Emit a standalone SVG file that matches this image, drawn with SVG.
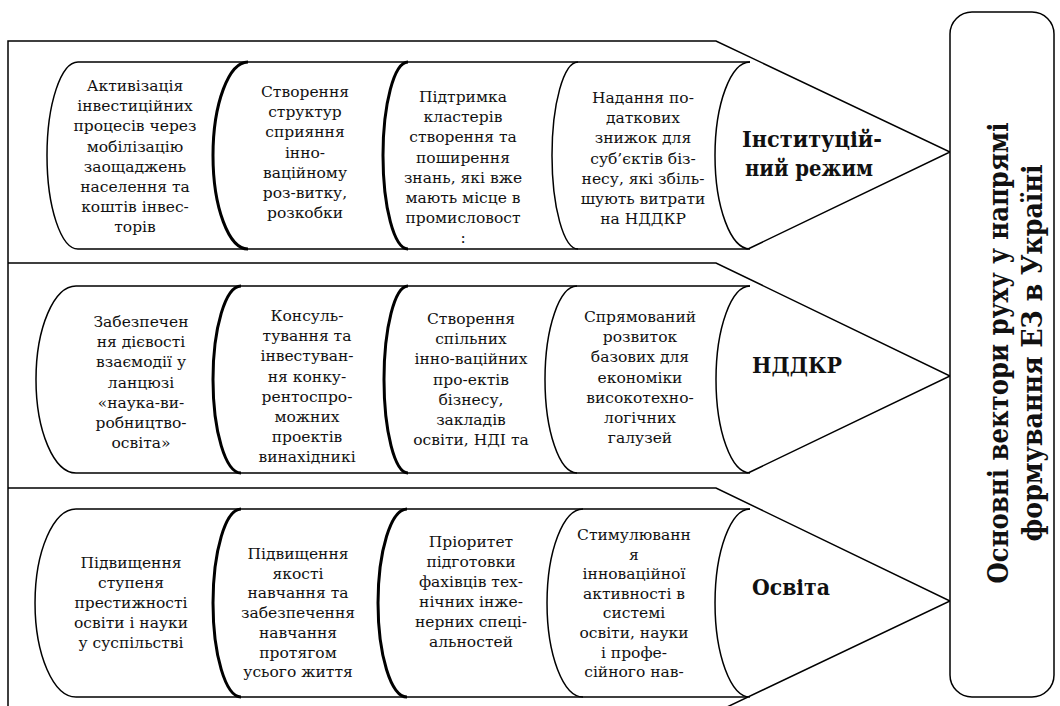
<svg xmlns="http://www.w3.org/2000/svg" width="1060" height="706" viewBox="0 0 1060 706">
<style>
.ln{fill:none;stroke:#000;stroke-width:1.5}
.arc{fill:none;stroke:#000;stroke-width:1.5}
.arcb{fill:none;stroke:#000;stroke-width:3}
.t{font-family:'DejaVu Serif','Noto Serif',serif;font-size:15.5px;fill:#111;text-anchor:middle}
.lb{font-family:'DejaVu Serif','Noto Serif',serif;font-size:22.5px;font-weight:bold;fill:#111;text-anchor:middle}
.vt{font-family:'DejaVu Serif','Noto Serif',serif;font-size:28px;font-weight:bold;fill:#111;text-anchor:middle}
</style>
<rect width="1060" height="706" fill="#fff"/>
<g id="connectors">
<path class="ln" d="M8,706 V41 H716 L950,152 L748,249"/>
<path class="ln" d="M8,263 H716 L950,376 L748,473"/>
<path class="ln" d="M8,488 H716 L950,601 L727,707"/>
</g>
<g id="band1">
<path class="ln" d="M78,62 H750 M78,249 H748"/>
<path class="arc" d="M78,62 A31,93.5 0 0 0 78,249"/>
<path class="arcb" d="M248,62 A35,93.5 0 0 0 248,249"/>
<path class="arcb" d="M408,62 A25,93.5 0 0 0 408,249"/>
<path class="arc" d="M578,62 A26,93.5 0 0 0 578,249"/>
<path class="arc" d="M750,62 A35,93.5 0 0 0 750,249"/>
<text class="t" x="135" y="91"><tspan x="135">Активізація</tspan><tspan x="135" dy="20.2">інвестиційних</tspan><tspan x="135" dy="20.2">процесів через</tspan><tspan x="135" dy="20.2">мобілізацію</tspan><tspan x="135" dy="20.2">заощаджень</tspan><tspan x="135" dy="20.2">населення та</tspan><tspan x="135" dy="20.2">коштів інвес-</tspan><tspan x="135" dy="20.2">торів</tspan></text>
<text class="t" x="305" y="97"><tspan x="305">Створення</tspan><tspan x="305" dy="20.2">структур</tspan><tspan x="305" dy="20.2">сприяння</tspan><tspan x="305" dy="20.2">інно-</tspan><tspan x="305" dy="20.2">ваційному</tspan><tspan x="305" dy="20.2">роз-витку,</tspan><tspan x="305" dy="20.2">розкобки</tspan></text>
<text class="t" x="463" y="102"><tspan x="463">Підтримка</tspan><tspan x="463" dy="20.2">кластерів</tspan><tspan x="463" dy="20.2">створення та</tspan><tspan x="463" dy="20.2">поширення</tspan><tspan x="463" dy="20.2">знань, які вже</tspan><tspan x="463" dy="20.2">мають місце в</tspan><tspan x="463" dy="20.2">промисловост</tspan><tspan x="463" dy="20.2">:</tspan></text>
<text class="t" x="643" y="103"><tspan x="643">Надання по-</tspan><tspan x="643" dy="20.2">даткових</tspan><tspan x="643" dy="20.2">знижок для</tspan><tspan x="643" dy="20.2">суб’єктів біз-</tspan><tspan x="643" dy="20.2">несу, які збіль-</tspan><tspan x="643" dy="20.2">шують витрати</tspan><tspan x="643" dy="20.2">на НДДКР</tspan></text>
<text class="lb" x="812" y="147"><tspan x="812" textLength="140" lengthAdjust="spacingAndGlyphs">Інституцій-</tspan><tspan x="809" dy="29" textLength="128" lengthAdjust="spacingAndGlyphs">ний режим</tspan></text>
</g>
<g id="band2">
<path class="ln" d="M76,286 H750 M76,473 H748"/>
<path class="arc" d="M76,286 A40,93.5 0 0 0 76,473"/>
<path class="arcb" d="M241,286 A28,93.5 0 0 0 241,473"/>
<path class="arcb" d="M408,286 A24,93.5 0 0 0 408,473"/>
<path class="arc" d="M577,286 A32,93.5 0 0 0 577,473"/>
<path class="arc" d="M750,286 A34,93.5 0 0 0 750,473"/>
<text class="t" x="141" y="327"><tspan x="141">Забезпечен</tspan><tspan x="141" dy="20.2">ня дієвості</tspan><tspan x="141" dy="20.2">взаємодії у</tspan><tspan x="141" dy="20.2">ланцюзі</tspan><tspan x="141" dy="20.2">«наука-ви-</tspan><tspan x="141" dy="20.2">робництво-</tspan><tspan x="141" dy="20.2">освіта»</tspan></text>
<text class="t" x="307" y="321"><tspan x="307">Консуль-</tspan><tspan x="307" dy="20.2">тування та</tspan><tspan x="307" dy="20.2">інвестуван-</tspan><tspan x="307" dy="20.2">ня конку-</tspan><tspan x="307" dy="20.2">рентоспро-</tspan><tspan x="307" dy="20.2">можних</tspan><tspan x="307" dy="20.2">проектів</tspan><tspan x="307" dy="20.2">винахідникі</tspan></text>
<text class="t" x="471" y="324"><tspan x="471">Створення</tspan><tspan x="471" dy="20.2">спільних</tspan><tspan x="471" dy="20.2">інно-ваційних</tspan><tspan x="471" dy="20.2">про-ектів</tspan><tspan x="471" dy="20.2">бізнесу,</tspan><tspan x="471" dy="20.2">закладів</tspan><tspan x="471" dy="20.2">освіти, НДІ та</tspan></text>
<text class="t" x="640" y="322"><tspan x="640">Спрямований</tspan><tspan x="640" dy="20.2">розвиток</tspan><tspan x="640" dy="20.2">базових для</tspan><tspan x="640" dy="20.2">економіки</tspan><tspan x="640" dy="20.2">високотехно-</tspan><tspan x="640" dy="20.2">логічних</tspan><tspan x="640" dy="20.2">галузей</tspan></text>
<text class="lb" x="797" y="373" textLength="90" lengthAdjust="spacingAndGlyphs">НДДКР</text>
</g>
<g id="band3">
<path class="ln" d="M76,509 H750 M76,697 H748"/>
<path class="arc" d="M76,509 A41,94 0 0 0 76,697"/>
<path class="arcb" d="M241,509 A28,94 0 0 0 241,697"/>
<path class="arcb" d="M407,509 A29,94 0 0 0 407,697"/>
<path class="arc" d="M583,509 A36,94 0 0 0 583,697"/>
<path class="arc" d="M750,509 A35,94 0 0 0 750,697"/>
<text class="t" x="131" y="568"><tspan x="131">Підвищення</tspan><tspan x="131" dy="20">ступеня</tspan><tspan x="131" dy="20">престижності</tspan><tspan x="131" dy="20">освіти і науки</tspan><tspan x="131" dy="20">у суспільстві</tspan></text>
<text class="t" x="298" y="559"><tspan x="298">Підвищення</tspan><tspan x="298" dy="19.7">якості</tspan><tspan x="298" dy="19.7">навчання та</tspan><tspan x="298" dy="19.7">забезпечення</tspan><tspan x="298" dy="19.7">навчання</tspan><tspan x="298" dy="19.7">протягом</tspan><tspan x="298" dy="19.7">усього життя</tspan></text>
<text class="t" x="471" y="547"><tspan x="471">Пріоритет</tspan><tspan x="471" dy="20">підготовки</tspan><tspan x="471" dy="20">фахівців тех-</tspan><tspan x="471" dy="20">нічних інже-</tspan><tspan x="471" dy="20">нерних спеці-</tspan><tspan x="471" dy="20">альностей</tspan></text>
<text class="t" x="634" y="540"><tspan x="634">Стимулюванн</tspan><tspan x="634" dy="19.6">я</tspan><tspan x="634" dy="19.6">інноваційної</tspan><tspan x="634" dy="19.6">активності в</tspan><tspan x="634" dy="19.6">системі</tspan><tspan x="634" dy="19.6">освіти, науки</tspan><tspan x="634" dy="19.6">і профе-</tspan><tspan x="634" dy="19.6">сійного нав-</tspan></text>
<text class="lb" x="791" y="595" textLength="78" lengthAdjust="spacingAndGlyphs">Освіта</text>
</g>
<g id="goal">
<rect x="950" y="12" width="104" height="685" rx="22" ry="22" fill="#fff" stroke="#000" stroke-width="1.5"/>
<text class="vt" transform="translate(1008,353) rotate(-90)" x="0" y="0" textLength="461" lengthAdjust="spacingAndGlyphs">Основні вектори руху у напрямі</text>
<text class="vt" transform="translate(1042,353) rotate(-90)" x="0" y="0" textLength="377" lengthAdjust="spacingAndGlyphs">формування ЕЗ в Україні</text>
</g>
</svg>
